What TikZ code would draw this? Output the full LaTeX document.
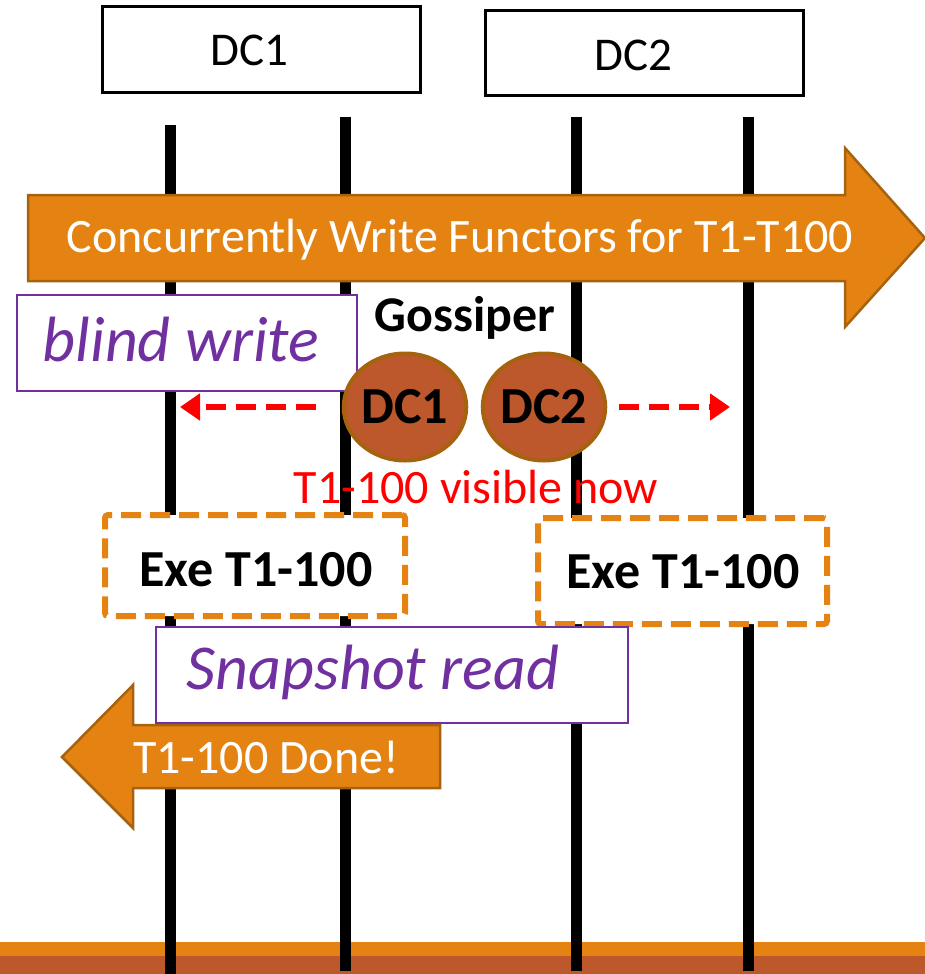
\documentclass[tikz,border=0pt]{standalone}
\usepackage{fontspec}
\setmainfont{Carlito}
\usetikzlibrary{arrows.meta,shapes.geometric}
\definecolor{accOrange}{HTML}{E48312}
\definecolor{accRust}{HTML}{BD582C}
\definecolor{accEdge}{HTML}{A6620F}
\definecolor{notePurple}{HTML}{7030A0}
\definecolor{alertRed}{HTML}{FF0000}
\tikzset{
  lifeline/.style={line width=11pt,black},
  dcbox/.style={draw=black,line width=3pt,fill=white,minimum width=318pt,minimum height=85pt,inner sep=0pt},
  plaintext/.style={inner sep=0pt,font=\fontsize{47}{50}\selectfont},
  blockarrow/.style={fill=accOrange,draw=accEdge,line width=2.5pt,line join=miter},
  arrowtext/.style={text=white,inner sep=0pt,font=\fontsize{48}{52}\selectfont},
  notebox/.style={draw=notePurple,line width=2pt,fill=white,inner sep=0pt},
  notetext/.style={text=notePurple,inner sep=0pt,font=\fontsize{64}{68}\selectfont\itshape},
  gossip/.style={ellipse,fill=accRust,draw=accEdge,line width=4pt,minimum width=121pt,minimum height=107pt,inner sep=0pt,font=\fontsize{52}{56}\selectfont\bfseries},
  exebox/.style={draw=accOrange,fill=white,line width=6pt,dash pattern=on 20pt off 9pt,rounded corners=3pt},
  boldtext/.style={inner sep=0pt,font=\fontsize{52}{56}\selectfont\bfseries},
  gossipflow/.style={draw=alertRed,line width=6pt,dash pattern=on 20pt off 10pt,-{Triangle[length=20pt,width=26pt]}},
  redtext/.style={text=alertRed,inner sep=0pt,font=\fontsize{48}{52}\selectfont}
}
\begin{document}
\begin{tikzpicture}[x=1pt,y=-1pt]
\useasboundingbox (0,0) rectangle (925,974);

% ground bar
\fill[accOrange] (0,942) rectangle (925,956);
\fill[accRust] (0,956) rectangle (925,974);

% datacenter headers
\node[dcbox] (dc1) at (261,49.5) {};
\node[plaintext] (dc1t) at (249,50) {DC1};
\node[dcbox] (dc2) at (644.5,53) {};
\node[plaintext] (dc2t) at (633,55) {DC2};

% lifelines, two per datacenter
\coordinate (la) at (170,125);  \coordinate (lae) at (170,974);
\coordinate (lb) at (345,117);  \coordinate (lbe) at (345,971);
\coordinate (lc) at (576,117);  \coordinate (lce) at (576,971);
\coordinate (ld) at (748,117);  \coordinate (lde) at (748,971);
\draw[lifeline] (la) -- (lae);
\draw[lifeline] (lb) -- (lbe);
\draw[lifeline] (lc) -- (lce);
\draw[lifeline] (ld) -- (lde);

% write phase arrow
\draw[blockarrow] (28,195) -- (845,195) -- (845,148) -- (925,238) -- (845,327) -- (845,281) -- (28,281) -- cycle;
\node[arrowtext] (write) at (460,240) {Concurrently Write Functors for T1-T100};

% blind write note
\node[notebox,minimum width=340pt,minimum height=96pt] (blind) at (187,343) {};
\node[notetext] (blindt) at (181,340) {blind write};

% gossiper
\node[boldtext,font=\fontsize{50}{54}\selectfont\bfseries] (gos) at (465,318) {Gossiper};
\node[gossip] (g1) at (405,407) {DC1};
\node[gossip] (g2) at (544,407) {DC2};
\coordinate (tipL) at (180,407);
\coordinate (tipR) at (730,407);
\draw[gossipflow,shorten <=26pt] (g1.west) -- (tipL);
\draw[gossipflow,shorten <=12pt] (g2.east) -- (tipR);
\node[redtext] (vis) at (476,487) {T1-100 visible now};

% execution boxes
\node[exebox,minimum width=300pt,minimum height=101pt] (exe1) at (255,565.5) {};
\node[boldtext] (exe1t) at (256,570) {Exe T1-100};
\node[exebox,minimum width=289pt,minimum height=106pt] (exe2) at (682.5,571) {};
\node[boldtext] (exe2t) at (683,572) {Exe T1-100};

% snapshot read note
\node[notebox,minimum width=472pt,minimum height=96pt] (snap) at (392,675) {};
\node[notetext] (snapt) at (373,672) {Snapshot read};

% completion arrow
\draw[blockarrow] (440,725) -- (133,725) -- (133,685) -- (62,757) -- (133,828) -- (133,788) -- (440,788) -- cycle;
\node[arrowtext] (done) at (266,757) {T1-100 Done!};
\end{tikzpicture}
\end{document}
